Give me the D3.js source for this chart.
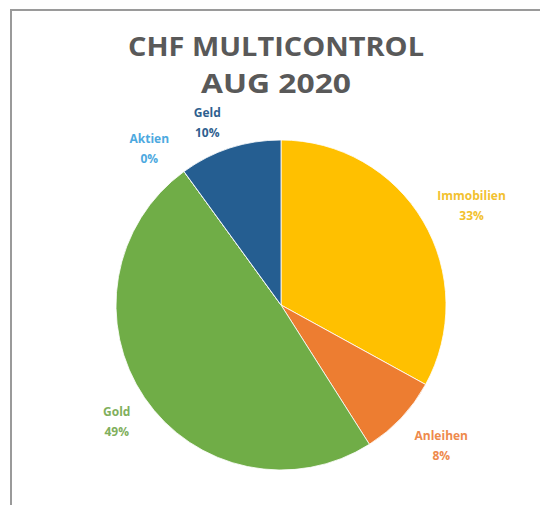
<!DOCTYPE html>
<html lang="en">
<head>
    <meta charset="UTF-8">
    <title>CHF Multicontrol Aug 2020</title>
    <script src="https://cdn.jsdelivr.net/npm/d3@7"></script>
    <style>
        body {
            margin: 0;
            background: #ffffff;
        }
        svg {
            display: block;
            font-family: "Open Sans", "Liberation Sans", sans-serif;
        }
    </style>
</head>
<body>
<svg width="540" height="505"></svg>

<script>
    // Chart data (clockwise from 12 o'clock)
    const categories = ["Immobilien", "Anleihen", "Gold", "Aktien", "Geld"];
    const shares = [33, 8, 49, 0, 10];
    const sliceColors = ["#FFC000", "#ED7D31", "#70AD47", "#5B9BD5", "#255E91"];
    const labelColors = ["#F2C12E", "#EE8A4C", "#7FAF5C", "#4DA9E0", "#2F5F8F"];
    const titleLines = ["CHF MULTICONTROL", "AUG 2020"];

    let svg = d3.select("svg");

    // Chart area border
    svg.append("rect")
        .attr("x", 11)
        .attr("y", 10)
        .attr("width", 540)
        .attr("height", 510)
        .attr("fill", "none")
        .attr("stroke", "#9a9a9a")
        .attr("stroke-width", 2);

    // Title
    svg.append("g").attr("class", "title")
        .selectAll("text")
        .data(titleLines)
        .enter()
        .append("text")
        .attr("x", 276)
        .attr("y", (d, i) => 56 + i * 37)
        .attr("text-anchor", "middle")
        .attr("font-size", 27)
        .attr("font-weight", "bold")
        .attr("fill", "#595959")
        .attr("textLength", (d, i) => i === 0 ? 296 : 150)
        .attr("lengthAdjust", "spacingAndGlyphs")
        .text(d => d);

    const cx = 281, cy = 305, radius = 165;

    const table = categories.map((c, i) => ({name: c, value: shares[i], color: sliceColors[i], label: labelColors[i]}));

    const pie = d3.pie()
        .sort(null)
        .value(d => d.value);

    const arc = d3.arc()
        .innerRadius(0)
        .outerRadius(radius);

    // Excel places the labels a bit unevenly: radius and angle nudge per slice
    const labelRadius = [215, 213, 201, 205, 197];
    const labelNudge = [3, -2, -1, -4, -4]; // degrees

    const g = svg.append("g")
        .attr("transform", `translate(${cx},${cy})`);

    const arcs = pie(table);

    g.selectAll("path")
        .data(arcs)
        .enter()
        .append("path")
        .attr("d", arc)
        .attr("fill", d => d.data.color)
        .attr("stroke", "#ffffff")
        .attr("stroke-width", 0.8);

    // Data labels: name on one line, percentage below
    const labels = g.selectAll("g.label")
        .data(arcs)
        .enter()
        .append("g")
        .attr("class", "label")
        .attr("transform", (d, i) => {
            const a = (d.startAngle + d.endAngle) / 2 + labelNudge[i] * Math.PI / 180;
            const r = labelRadius[i];
            return `translate(${r * Math.sin(a)},${-r * Math.cos(a)})`;
        });

    labels.append("text")
        .attr("y", -5)
        .attr("text-anchor", "middle")
        .attr("font-size", 12)
        .attr("font-weight", "bold")
        .attr("fill", d => d.data.label)
        .text(d => d.data.name);

    labels.append("text")
        .attr("y", 15)
        .attr("text-anchor", "middle")
        .attr("font-size", 12)
        .attr("font-weight", "bold")
        .attr("fill", d => d.data.label)
        .text(d => d.data.value + "%");
</script>
</body>
</html>
